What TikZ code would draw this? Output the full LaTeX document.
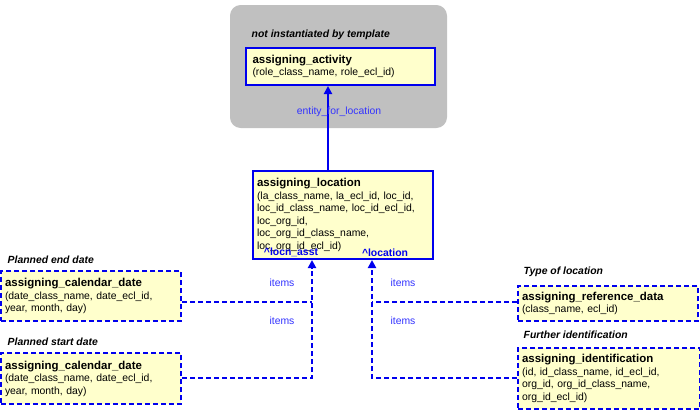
\documentclass[tikz,border=0pt]{standalone}
\usepackage{fontspec}
\setmainfont{Liberation Sans}
\usetikzlibrary{arrows.meta}
\definecolor{bl}{HTML}{0000EE}
\definecolor{lb}{HTML}{3333FF}
\definecolor{yf}{HTML}{FFFFCC}
\definecolor{gr}{HTML}{C0C0C0}
\begin{document}
\begin{tikzpicture}[x=0.75pt,y=-0.75pt,
  ent/.style={draw=bl,fill=yf,line width=1.5pt,anchor=north west,inner sep=3pt,align=left,font=\fontsize{7.8}{9.4}\selectfont},
  dent/.style={ent,dash pattern=on 4pt off 2pt},
  capt/.style={anchor=west,font=\fontsize{7.8}{9}\selectfont\bfseries\itshape},
  lab/.style={text=lb,font=\fontsize{7.8}{9}\selectfont},
  rl/.style={text=bl,font=\fontsize{7.8}{9}\selectfont\bfseries,inner sep=0pt},
  con/.style={draw=bl,line width=1.5pt,dash pattern=on 4pt off 2pt},
  arr/.style={-{Triangle[length=6pt,width=6pt]}}]
\useasboundingbox (0,0) rectangle (700,411);
\fill[gr,rounded corners=8pt] (230,5) rectangle (447,128);
\node[capt] (c0) at (247,35) {not instantiated by template};
\node[ent,minimum width=189pt*0.75,minimum height=37pt*0.75,text width=176*0.75pt] (act) at (245,47)
 {{\fontsize{8.6}{10}\selectfont\bfseries assigning\_activity}\\(role\_class\_name, role\_ecl\_id)};
\node[ent,minimum width=178*0.75pt,minimum height=88*0.75pt,text width=172*0.75pt] (loc) at (252,170)
 {{\fontsize{8.6}{10}\selectfont\bfseries assigning\_location}\\(la\_class\_name, la\_ecl\_id, loc\_id,\\loc\_id\_class\_name, loc\_id\_ecl\_id,\\loc\_org\_id,\\loc\_org\_id\_class\_name,\\loc\_org\_id\_ecl\_id)};
\node[rl] (r1) at (291,254) {\underline{\^{}locn\_asst}};
\node[rl] (r2) at (385,254) {\underline{\^{}location}};
\draw[draw=bl,line width=1.5pt,arr] (loc.north -| 328,0) -- (act.south -| 328,0);
\node[lab] (l0) at (339,112) {entity\_for\_location};

\node[capt] (c1) at (3,260) {Planned end date};
\node[dent,minimum width=177*0.75pt,minimum height=50*0.75pt,text width=172*0.75pt] (d1) at (0,270)
 {{\fontsize{8.6}{10}\selectfont\bfseries assigning\_calendar\_date}\\(date\_class\_name, date\_ecl\_id,\\year, month, day)};
\node[capt] (c2) at (3,342) {Planned start date};
\node[dent,minimum width=177*0.75pt,minimum height=51*0.75pt,text width=172*0.75pt] (d2) at (0,352)
 {{\fontsize{8.6}{10}\selectfont\bfseries assigning\_calendar\_date}\\(date\_class\_name, date\_ecl\_id,\\year, month, day)};
\node[capt] (c3) at (519,272) {Type of location};
\node[dent,minimum width=178*0.75pt,minimum height=35*0.75pt,text width=172*0.75pt] (rd) at (517,285)
 {{\fontsize{8.6}{10}\selectfont\bfseries assigning\_reference\_data}\\(class\_name, ecl\_id)};
\node[capt] (c4) at (519,335) {Further identification};
\node[dent,minimum width=180*0.75pt,minimum height=61*0.75pt,text width=174*0.75pt] (id) at (517,347)
 {{\fontsize{8.6}{10}\selectfont\bfseries assigning\_identification}\\(id, id\_class\_name, id\_ecl\_id,\\org\_id, org\_id\_class\_name,\\org\_id\_ecl\_id)};

\coordinate (p1) at (312,302); \coordinate (p2) at (312,378);
\coordinate (q1) at (372,302); \coordinate (q2) at (372,378);
\draw[con] (d1.east |- p1) -- (p1);
\draw[con,arr] (d2.east |- p2) -- (p2) -- (loc.south -| p2);
\draw[con] (rd.west |- q1) -- (q1);
\draw[con,arr] (id.west |- q2) -- (q2) -- (loc.south -| q2);
\node[lab] (i1) at (282,283) {items};
\node[lab] (i2) at (282,321) {items};
\node[lab] (i3) at (403,283) {items};
\node[lab] (i4) at (403,321) {items};
\end{tikzpicture}
\end{document}
